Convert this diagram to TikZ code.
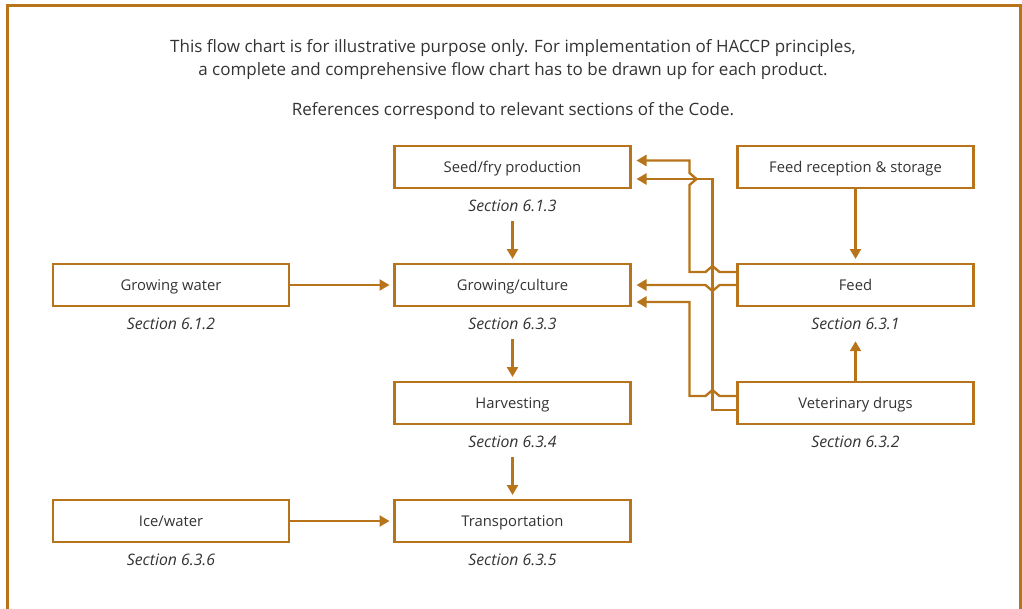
\documentclass[tikz,border=0pt]{standalone}
\usepackage{fontspec}
\setmainfont{Open Sans}
\usetikzlibrary{arrows.meta, positioning, calc}
\definecolor{haccp}{HTML}{B8741A}
\definecolor{txt}{HTML}{333333}

\begin{document}
\begin{tikzpicture}[
        x=1pt, y=-1pt,
        node distance=76pt and 107pt,
        box/.style={rectangle, draw=haccp, line width=2.4pt, outer sep=0pt,
            minimum width=236pt, minimum height=42pt, text=txt,
            text height=13pt, text depth=3pt,
            font=\fontsize{14.8}{17}\selectfont},
        sec/.style={inner sep=0pt, text=txt, font=\fontsize{15.8}{18}\selectfont\itshape},
        arr/.style={draw=haccp, line width=2.4pt, -{Triangle[length=10pt,width=11pt]}}
    ]
        \useasboundingbox (0,0) rectangle (1022,608);
        \draw[haccp, line width=3pt] (7.5,620) -- (7.5,5.5) -- (1020.5,5.5) -- (1020.5,620);

        % header
        \node[text=txt, align=center, font=\fontsize{17}{23}\selectfont] (note) at (513,60)
            {This flow chart is for illustrative purpose only. For implementation of HACCP principles,\\
             a complete and comprehensive flow chart has to be drawn up for each product.};
        \node[text=txt, font=\fontsize{17}{20}\selectfont] (refs) at (513,111)
            {References correspond to relevant sections of the Code.};

        % boxes
        \node[box] (seed) at (512.5,167) {Seed/fry production};
        \node[box, below=of seed] (grow) {Growing/culture};
        \node[box, below=of grow] (harv) {Harvesting};
        \node[box, below=of harv] (trans) {Transportation};
        \node[box, left=105.5pt of grow] (gwater) {Growing water};
        \node[box, left=105.5pt of trans] (ice) {Ice/water};
        \node[box, right=of seed] (feedrec) {Feed reception \& storage};
        \node[box, right=of grow] (feed) {Feed};
        \node[box, right=of harv] (vet) {Veterinary drugs};

        % section references
        \node[sec, below=12pt of seed] (seedsec) {Section 6.1.3};
        \node[sec, below=12pt of grow] (growsec) {Section 6.3.3};
        \node[sec, below=12pt of harv] (harvsec) {Section 6.3.4};
        \node[sec, below=12pt of trans] (transsec) {Section 6.3.5};
        \node[sec, below=12pt of gwater] (gwatersec) {Section 6.1.2};
        \node[sec, below=12pt of ice] (icesec) {Section 6.3.6};
        \node[sec, below=12pt of feed] (feedsec) {Section 6.3.1};
        \node[sec, below=12pt of vet] (vetsec) {Section 6.3.2};

        % main flow
        \draw[arr, shorten <=9pt, shorten >=5pt] (seedsec) -- (grow);
        \draw[arr, shorten <=9pt, shorten >=5pt] (growsec) -- (harv);
        \draw[arr, shorten <=9pt, shorten >=5pt] (harvsec) -- (trans);
        \draw[arr, shorten >=5pt] (gwater) -- (grow);
        \draw[arr, shorten >=5pt] (ice) -- (trans);
        \draw[arr, shorten >=5pt] (feedrec) -- (feed);
        \draw[arr, shorten >=11pt] (vet) -- (feedsec);

        % lanes for feed and drugs
        \coordinate (laneA) at ($(feed.west)+(-48,0)$);
        \coordinate (laneB) at ($(feed.west)+(-25,0)$);
        \coordinate (hopA) at ($(laneA|-seed.east)+(0,12)$);
        \coordinate (hopB) at (laneB|-hopA);

        \draw[arr, shorten >=6pt] ($(feed.west)+(0,-13)$) -- ($(laneB)+(7,-13)$)
            -- ($(laneB)+(0,-19)$) -- ($(laneB)+(-7,-13)$) -| ($(hopA)+(0,6)$)
            -- ($(hopA)+(7,0)$) -- ($(hopA)+(0,-6)$) |- ($(seed.east)+(0,-6.5)$);
        \draw[arr, shorten >=6pt] ($(vet.west)+(0,7)$) -| (hopB) -- ($(seed.east)+(0,12)$);
        \draw[arr, shorten >=6pt] (feed.west) -- ($(laneB)+(7,0)$)
            -- ($(laneB)+(0,6)$) -- ($(laneB)+(-7,0)$) -- (grow.east);
        \draw[arr, shorten >=6pt] ($(vet.west)+(0,-7)$) -- ($(laneB|-vet.west)+(7,-7)$)
            -- ($(laneB|-vet.west)+(0,-13)$) -- ($(laneB|-vet.west)+(-7,-7)$)
            -| ($(laneA)+(0,17)$) -- ($(grow.east)+(0,17)$);
    \end{tikzpicture}
\end{document}
